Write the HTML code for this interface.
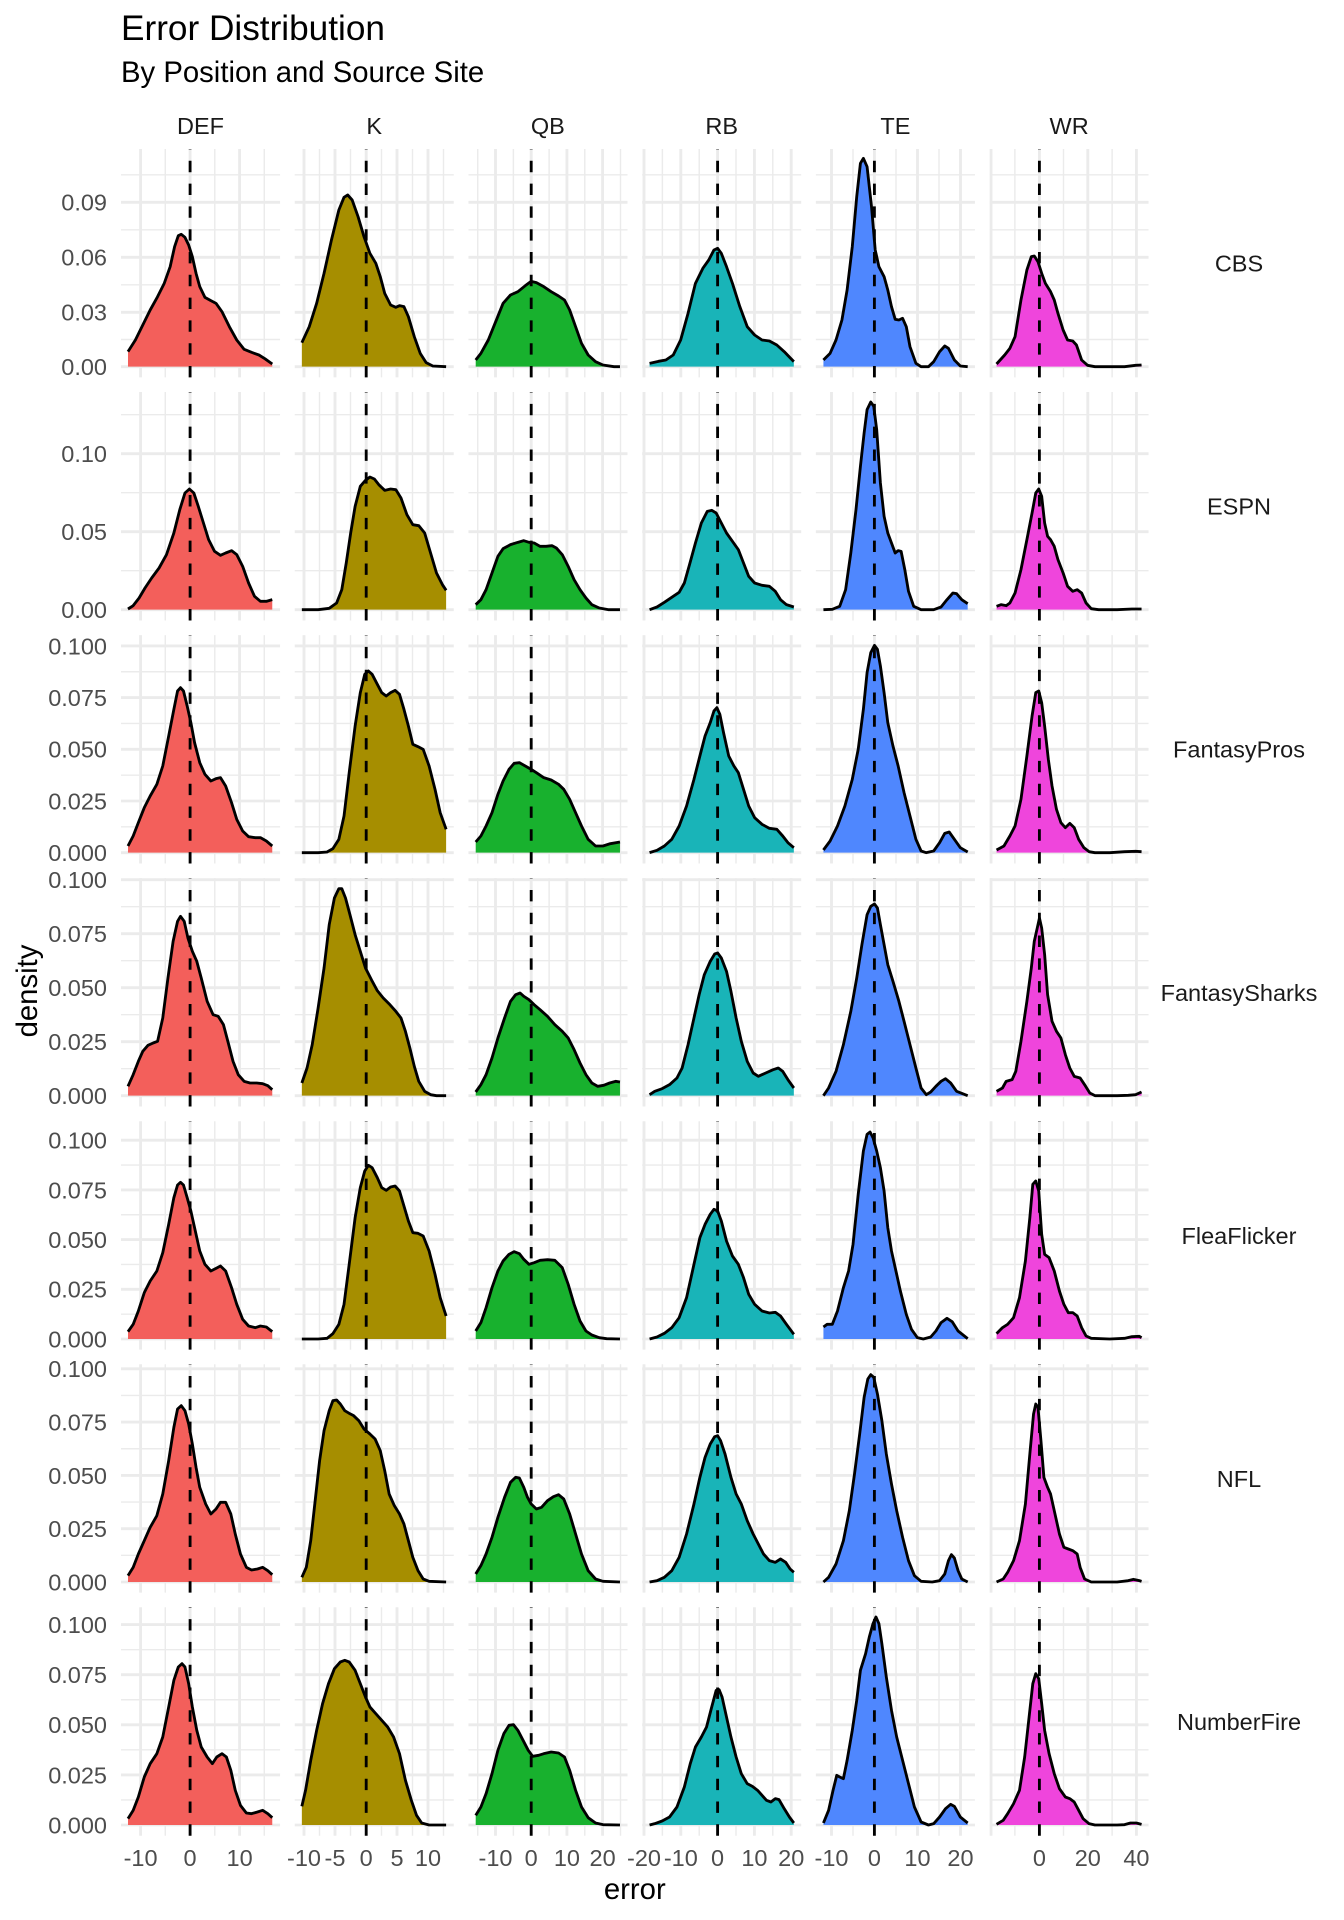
<!DOCTYPE html>
<html><head><meta charset="utf-8"><title>Error Distribution</title>
<style>html,body{margin:0;padding:0;background:#fff}svg{display:block}</style></head>
<body>
<svg width="1344" height="1920" viewBox="0 0 1344 1920" font-family="'Liberation Sans', Arial, Helvetica, sans-serif">
<rect x="0" y="0" width="1344" height="1920" fill="#fff"/>
<defs>
<g id="vg">
<path fill="none" stroke="#EBEBEB" stroke-width="1.42" d="M165.3,0V228.4M214.8,0V228.4M264.3,0V228.4M319.5,0V228.4M350.5,0V228.4M381.5,0V228.4M412.5,0V228.4M443.5,0V228.4M477.7,0V228.4M513.4,0V228.4M549.1,0V228.4M584.8,0V228.4M620.5,0V228.4M662.4,0V228.4M699.2,0V228.4M736,0V228.4M772.8,0V228.4M853,0V228.4M896,0V228.4M939,0V228.4M1014.9,0V228.4M1063.5,0V228.4M1112.1,0V228.4"/>
<path fill="none" stroke="#EBEBEB" stroke-width="2.84" d="M140.6,0V228.4M190.1,0V228.4M239.6,0V228.4M304,0V228.4M335,0V228.4M366.2,0V228.4M397,0V228.4M428,0V228.4M495.5,0V228.4M531.2,0V228.4M566.9,0V228.4M602.6,0V228.4M644,0V228.4M680.8,0V228.4M717.6,0V228.4M754.4,0V228.4M791.2,0V228.4M831.5,0V228.4M874.4,0V228.4M917.5,0V228.4M960.5,0V228.4M991,0V228.4M1039.4,0V228.4M1087.8,0V228.4M1136.4,0V228.4"/>
</g>
<g id="dl" fill="none" stroke="#000" stroke-width="2.84" stroke-dasharray="11.4 11.4">
<path d="M190.1,228.4V0M366.2,228.4V0M531.2,228.4V0M717.6,228.4V0M874.4,228.4V0M1039.4,228.4V0"/>
</g>
</defs>

<!-- vertical grid -->
<use href="#vg" x="0" y="149"/>
<use href="#vg" x="0" y="392.05"/>
<use href="#vg" x="0" y="635.1"/>
<use href="#vg" x="0" y="878.15"/>
<use href="#vg" x="0" y="1121.2"/>
<use href="#vg" x="0" y="1364.25"/>
<use href="#vg" x="0" y="1607.3"/>

<!-- horizontal minor grid -->
<path fill="none" stroke="#EBEBEB" stroke-width="1.42" d="M121,339.5H1148.65M121,284.8H1148.65M121,229.8H1148.65M121,174.8H1148.65
M121,570.7H1148.65M121,492.7H1148.65M121,414.7H1148.65
M121,826.85H1148.65M121,775.15H1148.65M121,723.45H1148.65M121,671.75H1148.65
M121,1068.7H1148.65M121,1014.7H1148.65M121,960.7H1148.65M121,906.7H1148.65
M121,1314.15H1148.65M121,1264.45H1148.65M121,1214.75H1148.65M121,1165.05H1148.65
M121,1555.35H1148.65M121,1502.05H1148.65M121,1448.75H1148.65M121,1395.45H1148.65
M121,1799.95H1148.65M121,1749.85H1148.65M121,1699.75H1148.65M121,1649.65H1148.65"/>
<!-- horizontal major grid -->
<path fill="none" stroke="#EBEBEB" stroke-width="2.84" d="M121,366.7H1148.65M121,312.3H1148.65M121,257.3H1148.65M121,202.3H1148.65
M121,609.7H1148.65M121,531.7H1148.65M121,453.7H1148.65
M121,852.7H1148.65M121,801H1148.65M121,749.3H1148.65M121,697.6H1148.65M121,645.9H1148.65
M121,1095.7H1148.65M121,1041.7H1148.65M121,987.7H1148.65M121,933.7H1148.65M121,879.7H1148.65
M121,1339H1148.65M121,1289.3H1148.65M121,1239.6H1148.65M121,1189.9H1148.65M121,1140.2H1148.65
M121,1582H1148.65M121,1528.7H1148.65M121,1475.4H1148.65M121,1422.1H1148.65M121,1368.8H1148.65
M121,1825H1148.65M121,1774.9H1148.65M121,1724.8H1148.65M121,1674.7H1148.65M121,1624.6H1148.65"/>

<!-- gaps between panel columns -->
<g fill="#fff">
<rect x="280.05" y="140" width="14.67" height="1700"/>
<rect x="453.77" y="140" width="14.67" height="1700"/>
<rect x="627.49" y="140" width="14.67" height="1700"/>
<rect x="801.21" y="140" width="14.67" height="1700"/>
<rect x="974.93" y="140" width="14.67" height="1700"/>
<rect x="1148.65" y="140" width="20" height="1700"/>
<rect x="100" y="140" width="21" height="1700"/>
</g>

<!-- ROW 1 CBS -->
<g transform="translate(0,140) scale(0.739828,0.333333)">
<polygon fill="#F35F5B" points="173,680 173,635 183,600 193,555 203,510 213,470 222,430 230,380 236,320 241,287 245,283 250,292 255,315 260,350 265,400 270,440 277,472 285,482 292,490 300,515 310,560 320,600 330,628 340,637 350,645 358,656 368,672 368,680"/>
<polygon fill="#A68E00" points="408,680 408,608 418,560 428,490 438,400 448,300 458,210 465,172 470,165 476,180 484,230 492,290 500,340 508,370 514,410 520,460 528,495 535,502 540,497 546,500 552,530 560,590 568,640 576,668 585,678 603,680"/>
<polygon fill="#18B12E" points="643,680 643,660 650,640 660,600 670,545 680,490 690,465 700,455 710,437 718,424 725,428 735,440 745,455 755,468 763,480 770,510 778,560 786,610 795,645 805,665 815,675 830,680 838,680"/>
<polygon fill="#19B4B8" points="878,680 878,670 890,664 900,660 910,645 920,600 930,520 940,430 950,385 958,360 965,330 970,325 975,340 982,380 990,430 1000,500 1010,560 1020,585 1030,600 1040,603 1050,615 1060,635 1073,665 1073,680"/>
<polygon fill="#4F87FE" points="1113,680 1113,660 1122,640 1130,600 1138,540 1145,450 1152,320 1158,170 1163,70 1167,55 1172,80 1178,200 1183,330 1188,380 1195,410 1200,450 1205,500 1210,538 1215,540 1220,535 1225,560 1230,620 1238,670 1245,680 1255,680 1262,665 1270,635 1277,618 1282,625 1290,660 1298,678 1308,680"/>
<polygon fill="#EF45DC" points="1347,680 1347,672 1358,645 1365,625 1372,590 1380,480 1388,390 1394,350 1398,348 1403,365 1408,400 1413,430 1420,455 1425,480 1430,520 1437,570 1443,600 1450,603 1455,615 1462,660 1470,676 1480,680 1500,680 1520,680 1535,676 1543,675 1543,680"/>
<g fill="none" stroke="#000" stroke-width="2.84" stroke-linejoin="round" vector-effect="non-scaling-stroke">
<polyline vector-effect="non-scaling-stroke" points="173,635 183,600 193,555 203,510 213,470 222,430 230,380 236,320 241,287 245,283 250,292 255,315 260,350 265,400 270,440 277,472 285,482 292,490 300,515 310,560 320,600 330,628 340,637 350,645 358,656 368,672"/>
<polyline vector-effect="non-scaling-stroke" points="408,608 418,560 428,490 438,400 448,300 458,210 465,172 470,165 476,180 484,230 492,290 500,340 508,370 514,410 520,460 528,495 535,502 540,497 546,500 552,530 560,590 568,640 576,668 585,678 603,680"/>
<polyline vector-effect="non-scaling-stroke" points="643,660 650,640 660,600 670,545 680,490 690,465 700,455 710,437 718,424 725,428 735,440 745,455 755,468 763,480 770,510 778,560 786,610 795,645 805,665 815,675 830,680 838,680"/>
<polyline vector-effect="non-scaling-stroke" points="878,670 890,664 900,660 910,645 920,600 930,520 940,430 950,385 958,360 965,330 970,325 975,340 982,380 990,430 1000,500 1010,560 1020,585 1030,600 1040,603 1050,615 1060,635 1073,665"/>
<polyline vector-effect="non-scaling-stroke" points="1113,660 1122,640 1130,600 1138,540 1145,450 1152,320 1158,170 1163,70 1167,55 1172,80 1178,200 1183,330 1188,380 1195,410 1200,450 1205,500 1210,538 1215,540 1220,535 1225,560 1230,620 1238,670 1245,680 1255,680 1262,665 1270,635 1277,618 1282,625 1290,660 1298,678 1308,680"/>
<polyline vector-effect="non-scaling-stroke" points="1347,672 1358,645 1365,625 1372,590 1380,480 1388,390 1394,350 1398,348 1403,365 1408,400 1413,430 1420,455 1425,480 1430,520 1437,570 1443,600 1450,603 1455,615 1462,660 1470,676 1480,680 1500,680 1520,680 1535,676 1543,675"/>
</g>
</g>

<!-- ROW 2 ESPN -->
<g transform="translate(0,383) scale(0.739828,0.333333)">
<polygon fill="#F35F5B" points="173,680 173,678 180,668 188,645 196,615 205,585 215,555 225,515 235,450 243,380 250,330 256,318 262,330 268,370 275,420 282,470 290,505 298,517 305,510 313,503 320,515 328,550 336,600 344,640 352,655 360,655 368,650 368,680"/>
<polygon fill="#A68E00" points="408,680 430,680 445,676 455,660 462,620 468,540 474,450 480,370 487,310 494,292 500,282 506,288 512,305 520,322 528,318 535,320 542,345 550,395 558,425 566,428 574,450 582,510 590,570 598,605 603,622 603,680"/>
<polygon fill="#18B12E" points="643,680 643,665 650,650 657,620 665,570 673,520 680,497 690,485 700,478 708,473 715,478 722,480 730,490 738,490 746,488 752,495 760,515 768,550 776,590 784,620 792,645 800,665 810,675 822,680 838,680"/>
<polygon fill="#19B4B8" points="878,680 888,672 898,658 908,643 918,628 925,600 932,545 940,480 948,420 956,385 962,382 968,390 975,420 982,450 990,475 998,500 1005,540 1012,580 1020,600 1030,607 1040,610 1048,625 1055,650 1063,665 1073,672 1073,680"/>
<polygon fill="#4F87FE" points="1113,680 1125,679 1135,670 1143,620 1150,510 1157,380 1163,250 1168,150 1172,80 1177,57 1181,70 1185,140 1190,300 1195,400 1200,450 1205,480 1210,510 1214,503 1218,505 1223,560 1228,625 1235,670 1245,680 1262,680 1272,672 1280,650 1288,630 1293,632 1300,650 1308,662 1308,680"/>
<polygon fill="#EF45DC" points="1347,680 1347,670 1353,665 1360,668 1365,660 1372,630 1380,560 1388,470 1395,390 1400,330 1404,318 1408,340 1412,420 1416,460 1420,470 1425,490 1430,530 1437,570 1443,610 1450,625 1456,620 1462,630 1468,660 1475,677 1485,680 1510,680 1530,678 1543,678 1543,680"/>
<g fill="none" stroke="#000" stroke-width="2.84" stroke-linejoin="round">
<polyline vector-effect="non-scaling-stroke" points="173,678 180,668 188,645 196,615 205,585 215,555 225,515 235,450 243,380 250,330 256,318 262,330 268,370 275,420 282,470 290,505 298,517 305,510 313,503 320,515 328,550 336,600 344,640 352,655 360,655 368,650"/>
<polyline vector-effect="non-scaling-stroke" points="408,680 430,680 445,676 455,660 462,620 468,540 474,450 480,370 487,310 494,292 500,282 506,288 512,305 520,322 528,318 535,320 542,345 550,395 558,425 566,428 574,450 582,510 590,570 598,605 603,622"/>
<polyline vector-effect="non-scaling-stroke" points="643,665 650,650 657,620 665,570 673,520 680,497 690,485 700,478 708,473 715,478 722,480 730,490 738,490 746,488 752,495 760,515 768,550 776,590 784,620 792,645 800,665 810,675 822,680 838,680"/>
<polyline vector-effect="non-scaling-stroke" points="878,680 888,672 898,658 908,643 918,628 925,600 932,545 940,480 948,420 956,385 962,382 968,390 975,420 982,450 990,475 998,500 1005,540 1012,580 1020,600 1030,607 1040,610 1048,625 1055,650 1063,665 1073,672"/>
<polyline vector-effect="non-scaling-stroke" points="1113,680 1125,679 1135,670 1143,620 1150,510 1157,380 1163,250 1168,150 1172,80 1177,57 1181,70 1185,140 1190,300 1195,400 1200,450 1205,480 1210,510 1214,503 1218,505 1223,560 1228,625 1235,670 1245,680 1262,680 1272,672 1280,650 1288,630 1293,632 1300,650 1308,662"/>
<polyline vector-effect="non-scaling-stroke" points="1347,670 1353,665 1360,668 1365,660 1372,630 1380,560 1388,470 1395,390 1400,330 1404,318 1408,340 1412,420 1416,460 1420,470 1425,490 1430,530 1437,570 1443,610 1450,625 1456,620 1462,630 1468,660 1475,677 1485,680 1510,680 1530,678 1543,678"/>
</g>
</g>

<!-- ROW 3 FantasyPros -->
<g transform="translate(0,626) scale(0.739828,0.333333)">
<polygon fill="#F35F5B" points="173,680 173,660 180,630 187,590 195,545 203,510 212,475 220,420 228,330 235,250 240,195 244,185 248,195 253,240 258,290 263,350 270,410 277,445 285,465 292,458 298,455 305,480 313,530 320,580 328,615 336,632 345,635 352,635 360,645 368,660 368,680"/>
<polygon fill="#A68E00" points="408,680 430,680 442,678 450,668 458,640 465,570 472,440 480,300 487,200 493,145 498,135 503,145 510,175 516,200 522,210 528,200 534,193 540,205 546,250 552,300 558,355 565,362 572,370 580,420 588,490 595,560 603,610 603,680"/>
<polygon fill="#18B12E" points="643,680 643,648 650,630 657,600 665,560 673,505 680,465 688,430 695,412 702,410 710,420 718,430 725,440 735,455 745,462 755,475 762,490 770,520 778,560 786,600 795,640 805,660 815,660 825,653 838,648 838,680"/>
<polygon fill="#19B4B8" points="878,680 888,673 898,660 908,640 918,600 928,540 938,460 946,390 953,330 960,290 965,255 969,245 973,265 978,320 985,390 992,420 998,440 1005,490 1012,540 1020,575 1030,595 1040,607 1050,610 1058,630 1065,650 1073,665 1073,680"/>
<polygon fill="#4F87FE" points="1113,680 1113,672 1122,645 1132,600 1142,540 1152,460 1160,370 1167,250 1172,140 1177,80 1182,58 1186,70 1190,120 1195,200 1200,290 1207,360 1214,420 1222,500 1230,570 1238,640 1245,675 1252,680 1262,675 1270,650 1277,622 1283,618 1290,640 1298,665 1308,678 1308,680"/>
<polygon fill="#EF45DC" points="1347,680 1347,672 1357,660 1365,630 1372,600 1380,520 1388,390 1395,270 1400,200 1404,195 1408,230 1412,300 1417,400 1422,480 1428,550 1434,590 1440,605 1446,592 1452,605 1458,640 1465,665 1472,677 1480,680 1500,680 1520,677 1535,676 1543,677 1543,680"/>
<g fill="none" stroke="#000" stroke-width="2.84" stroke-linejoin="round">
<polyline vector-effect="non-scaling-stroke" points="173,660 180,630 187,590 195,545 203,510 212,475 220,420 228,330 235,250 240,195 244,185 248,195 253,240 258,290 263,350 270,410 277,445 285,465 292,458 298,455 305,480 313,530 320,580 328,615 336,632 345,635 352,635 360,645 368,660"/>
<polyline vector-effect="non-scaling-stroke" points="408,680 430,680 442,678 450,668 458,640 465,570 472,440 480,300 487,200 493,145 498,135 503,145 510,175 516,200 522,210 528,200 534,193 540,205 546,250 552,300 558,355 565,362 572,370 580,420 588,490 595,560 603,610"/>
<polyline vector-effect="non-scaling-stroke" points="643,648 650,630 657,600 665,560 673,505 680,465 688,430 695,412 702,410 710,420 718,430 725,440 735,455 745,462 755,475 762,490 770,520 778,560 786,600 795,640 805,660 815,660 825,653 838,648"/>
<polyline vector-effect="non-scaling-stroke" points="878,680 888,673 898,660 908,640 918,600 928,540 938,460 946,390 953,330 960,290 965,255 969,245 973,265 978,320 985,390 992,420 998,440 1005,490 1012,540 1020,575 1030,595 1040,607 1050,610 1058,630 1065,650 1073,665"/>
<polyline vector-effect="non-scaling-stroke" points="1113,672 1122,645 1132,600 1142,540 1152,460 1160,370 1167,250 1172,140 1177,80 1182,58 1186,70 1190,120 1195,200 1200,290 1207,360 1214,420 1222,500 1230,570 1238,640 1245,675 1252,680 1262,675 1270,650 1277,622 1283,618 1290,640 1298,665 1308,678"/>
<polyline vector-effect="non-scaling-stroke" points="1347,672 1357,660 1365,630 1372,600 1380,520 1388,390 1395,270 1400,200 1404,195 1408,230 1412,300 1417,400 1422,480 1428,550 1434,590 1440,605 1446,592 1452,605 1458,640 1465,665 1472,677 1480,680 1500,680 1520,677 1535,676 1543,677"/>
</g>
</g>

<!-- ROW 4 FantasySharks -->
<g transform="translate(0,868) scale(0.739828,0.333333)">
<polygon fill="#F35F5B" points="173,683 173,655 180,620 187,580 193,550 200,532 207,525 213,520 220,450 227,330 234,220 240,160 244,145 249,160 254,210 260,250 266,280 272,330 280,400 288,440 295,445 302,470 308,520 315,580 322,620 330,640 338,645 347,645 355,647 362,653 368,665 368,683"/>
<polygon fill="#A68E00" points="408,683 408,645 415,600 422,530 430,420 438,300 445,170 452,90 458,62 462,62 467,90 473,140 480,200 487,250 494,300 502,335 510,368 518,390 527,410 535,430 542,450 548,490 554,540 560,595 566,640 574,670 582,680 590,683 603,683"/>
<polygon fill="#18B12E" points="643,683 643,672 650,650 657,620 665,570 673,510 682,450 690,400 697,380 703,375 708,385 715,395 722,410 730,425 740,445 750,470 760,490 768,510 776,545 784,585 792,620 800,645 808,655 816,652 824,645 832,640 838,642 838,683"/>
<polygon fill="#19B4B8" points="878,683 878,680 885,670 895,662 905,650 915,630 922,600 930,530 938,450 945,380 952,320 960,280 966,258 970,255 975,270 982,310 988,370 995,450 1002,520 1010,580 1018,615 1025,625 1035,615 1045,605 1052,600 1058,610 1065,635 1073,660 1073,683"/>
<polygon fill="#4F87FE" points="1113,683 1120,660 1130,610 1140,530 1150,430 1158,330 1165,230 1172,140 1177,115 1182,108 1186,120 1190,170 1195,230 1200,290 1207,340 1215,400 1222,460 1230,530 1238,600 1245,660 1252,680 1258,672 1265,655 1272,640 1278,632 1285,645 1293,670 1308,683"/>
<polygon fill="#EF45DC" points="1347,683 1347,670 1355,660 1360,640 1368,635 1373,610 1380,520 1388,400 1394,300 1398,220 1402,180 1405,150 1408,180 1412,260 1416,380 1422,460 1428,490 1434,510 1440,560 1446,600 1452,625 1460,630 1466,650 1473,675 1480,683 1510,683 1525,682 1535,680 1543,672 1543,683"/>
<g fill="none" stroke="#000" stroke-width="2.84" stroke-linejoin="round">
<polyline vector-effect="non-scaling-stroke" points="173,655 180,620 187,580 193,550 200,532 207,525 213,520 220,450 227,330 234,220 240,160 244,145 249,160 254,210 260,250 266,280 272,330 280,400 288,440 295,445 302,470 308,520 315,580 322,620 330,640 338,645 347,645 355,647 362,653 368,665"/>
<polyline vector-effect="non-scaling-stroke" points="408,645 415,600 422,530 430,420 438,300 445,170 452,90 458,62 462,62 467,90 473,140 480,200 487,250 494,300 502,335 510,368 518,390 527,410 535,430 542,450 548,490 554,540 560,595 566,640 574,670 582,680 590,683 603,683"/>
<polyline vector-effect="non-scaling-stroke" points="643,672 650,650 657,620 665,570 673,510 682,450 690,400 697,380 703,375 708,385 715,395 722,410 730,425 740,445 750,470 760,490 768,510 776,545 784,585 792,620 800,645 808,655 816,652 824,645 832,640 838,642"/>
<polyline vector-effect="non-scaling-stroke" points="878,680 885,670 895,662 905,650 915,630 922,600 930,530 938,450 945,380 952,320 960,280 966,258 970,255 975,270 982,310 988,370 995,450 1002,520 1010,580 1018,615 1025,625 1035,615 1045,605 1052,600 1058,610 1065,635 1073,660"/>
<polyline vector-effect="non-scaling-stroke" points="1113,683 1120,660 1130,610 1140,530 1150,430 1158,330 1165,230 1172,140 1177,115 1182,108 1186,120 1190,170 1195,230 1200,290 1207,340 1215,400 1222,460 1230,530 1238,600 1245,660 1252,680 1258,672 1265,655 1272,640 1278,632 1285,645 1293,670 1308,683"/>
<polyline vector-effect="non-scaling-stroke" points="1347,670 1355,660 1360,640 1368,635 1373,610 1380,520 1388,400 1394,300 1398,220 1402,180 1405,150 1408,180 1412,260 1416,380 1422,460 1428,490 1434,510 1440,560 1446,600 1452,625 1460,630 1466,650 1473,675 1480,683 1510,683 1525,682 1535,680 1543,672"/>
</g>
</g>

<!-- ROW 5 FleaFlicker -->
<g transform="translate(0,1111) scale(0.739828,0.333333)">
<polygon fill="#F35F5B" points="173,684 173,662 180,640 187,600 195,545 203,510 212,480 220,425 228,340 235,260 240,222 244,214 248,222 253,260 258,300 264,360 270,420 277,460 285,480 292,472 298,465 305,480 313,530 320,580 328,625 336,645 345,650 352,645 360,648 368,662 368,684"/>
<polygon fill="#A68E00" points="408,684 430,684 442,682 450,668 458,640 465,580 472,460 480,320 487,230 493,180 498,163 503,170 510,200 516,230 522,238 528,228 534,225 540,240 546,285 552,330 558,365 565,367 572,375 580,420 588,490 595,560 603,615 603,684"/>
<polygon fill="#18B12E" points="643,684 643,660 650,635 657,590 665,530 673,480 680,450 688,430 695,422 702,428 708,445 715,460 722,455 730,448 740,446 750,448 760,470 768,520 776,580 784,630 792,660 800,672 810,680 820,683 838,684"/>
<polygon fill="#19B4B8" points="878,684 888,678 898,667 908,650 918,620 928,560 938,460 946,380 953,340 960,310 965,295 970,300 975,330 982,390 990,435 998,460 1005,500 1012,550 1020,580 1030,600 1040,606 1048,604 1055,615 1063,640 1073,670 1073,684"/>
<polygon fill="#4F87FE" points="1113,684 1113,648 1118,640 1125,640 1132,600 1140,530 1147,480 1153,400 1160,250 1167,120 1172,70 1176,63 1180,80 1185,120 1190,170 1195,240 1200,350 1205,420 1210,470 1217,540 1225,610 1232,655 1240,680 1248,684 1258,678 1265,660 1272,635 1280,622 1287,632 1295,660 1308,683 1308,684"/>
<polygon fill="#EF45DC" points="1347,684 1347,668 1355,650 1362,640 1370,620 1378,560 1386,450 1392,320 1396,220 1400,210 1404,240 1408,370 1412,430 1418,440 1425,480 1432,540 1438,580 1444,605 1450,605 1456,615 1462,650 1468,675 1475,682 1500,684 1520,682 1530,677 1540,676 1543,680 1543,684"/>
<g fill="none" stroke="#000" stroke-width="2.84" stroke-linejoin="round">
<polyline vector-effect="non-scaling-stroke" points="173,662 180,640 187,600 195,545 203,510 212,480 220,425 228,340 235,260 240,222 244,214 248,222 253,260 258,300 264,360 270,420 277,460 285,480 292,472 298,465 305,480 313,530 320,580 328,625 336,645 345,650 352,645 360,648 368,662"/>
<polyline vector-effect="non-scaling-stroke" points="408,684 430,684 442,682 450,668 458,640 465,580 472,460 480,320 487,230 493,180 498,163 503,170 510,200 516,230 522,238 528,228 534,225 540,240 546,285 552,330 558,365 565,367 572,375 580,420 588,490 595,560 603,615"/>
<polyline vector-effect="non-scaling-stroke" points="643,660 650,635 657,590 665,530 673,480 680,450 688,430 695,422 702,428 708,445 715,460 722,455 730,448 740,446 750,448 760,470 768,520 776,580 784,630 792,660 800,672 810,680 820,683 838,684"/>
<polyline vector-effect="non-scaling-stroke" points="878,684 888,678 898,667 908,650 918,620 928,560 938,460 946,380 953,340 960,310 965,295 970,300 975,330 982,390 990,435 998,460 1005,500 1012,550 1020,580 1030,600 1040,606 1048,604 1055,615 1063,640 1073,670"/>
<polyline vector-effect="non-scaling-stroke" points="1113,648 1118,640 1125,640 1132,600 1140,530 1147,480 1153,400 1160,250 1167,120 1172,70 1176,63 1180,80 1185,120 1190,170 1195,240 1200,350 1205,420 1210,470 1217,540 1225,610 1232,655 1240,680 1248,684 1258,678 1265,660 1272,635 1280,622 1287,632 1295,660 1308,683"/>
<polyline vector-effect="non-scaling-stroke" points="1347,668 1355,650 1362,640 1370,620 1378,560 1386,450 1392,320 1396,220 1400,210 1404,240 1408,370 1412,430 1418,440 1425,480 1432,540 1438,580 1444,605 1450,605 1456,615 1462,650 1468,675 1475,682 1500,684 1520,682 1530,677 1540,676 1543,680"/>
</g>
</g>

<!-- ROW 6 NFL -->
<g transform="translate(0,1354) scale(0.739828,0.333333)">
<polygon fill="#F35F5B" points="173,684 173,665 180,640 187,600 195,560 203,520 212,485 220,420 228,320 235,220 240,165 245,155 250,170 255,210 260,270 265,340 270,400 278,450 285,480 292,465 298,445 305,445 312,480 318,540 325,600 333,640 340,648 348,645 355,640 362,650 368,662 368,684"/>
<polygon fill="#A68E00" points="408,684 408,670 414,640 420,560 426,440 432,320 438,230 445,170 450,140 455,138 460,150 466,170 472,178 478,185 485,200 492,225 500,240 507,255 514,290 520,350 526,420 533,455 540,480 546,510 552,560 558,610 565,650 572,675 580,682 603,684"/>
<polygon fill="#18B12E" points="643,684 643,660 650,635 657,600 665,550 673,490 682,430 690,385 697,370 702,372 708,400 713,430 718,450 725,465 732,460 740,440 748,428 755,422 762,435 770,480 778,540 786,600 795,650 805,675 815,682 838,684"/>
<polygon fill="#19B4B8" points="878,684 888,680 898,670 908,650 918,610 928,540 938,450 946,370 953,310 960,270 966,248 970,245 974,260 980,300 988,370 995,420 1002,450 1010,500 1018,540 1025,570 1032,600 1040,620 1048,625 1055,615 1062,625 1068,645 1073,655 1073,684"/>
<polygon fill="#4F87FE" points="1113,684 1120,670 1130,630 1140,560 1148,470 1155,360 1162,240 1168,130 1173,75 1177,62 1181,70 1186,120 1192,200 1198,300 1205,390 1212,470 1220,550 1228,620 1236,665 1245,682 1260,684 1270,680 1277,660 1282,620 1286,602 1290,612 1295,650 1300,675 1308,684"/>
<polygon fill="#EF45DC" points="1347,684 1356,675 1362,655 1370,620 1378,560 1386,450 1392,300 1397,180 1400,150 1403,160 1407,260 1411,370 1416,400 1420,420 1426,480 1432,540 1438,580 1444,585 1450,590 1456,600 1460,640 1466,675 1475,684 1510,684 1525,680 1532,676 1540,680 1543,682 1543,684"/>
<g fill="none" stroke="#000" stroke-width="2.84" stroke-linejoin="round">
<polyline vector-effect="non-scaling-stroke" points="173,665 180,640 187,600 195,560 203,520 212,485 220,420 228,320 235,220 240,165 245,155 250,170 255,210 260,270 265,340 270,400 278,450 285,480 292,465 298,445 305,445 312,480 318,540 325,600 333,640 340,648 348,645 355,640 362,650 368,662"/>
<polyline vector-effect="non-scaling-stroke" points="408,670 414,640 420,560 426,440 432,320 438,230 445,170 450,140 455,138 460,150 466,170 472,178 478,185 485,200 492,225 500,240 507,255 514,290 520,350 526,420 533,455 540,480 546,510 552,560 558,610 565,650 572,675 580,682 603,684"/>
<polyline vector-effect="non-scaling-stroke" points="643,660 650,635 657,600 665,550 673,490 682,430 690,385 697,370 702,372 708,400 713,430 718,450 725,465 732,460 740,440 748,428 755,422 762,435 770,480 778,540 786,600 795,650 805,675 815,682 838,684"/>
<polyline vector-effect="non-scaling-stroke" points="878,684 888,680 898,670 908,650 918,610 928,540 938,450 946,370 953,310 960,270 966,248 970,245 974,260 980,300 988,370 995,420 1002,450 1010,500 1018,540 1025,570 1032,600 1040,620 1048,625 1055,615 1062,625 1068,645 1073,655"/>
<polyline vector-effect="non-scaling-stroke" points="1113,684 1120,670 1130,630 1140,560 1148,470 1155,360 1162,240 1168,130 1173,75 1177,62 1181,70 1186,120 1192,200 1198,300 1205,390 1212,470 1220,550 1228,620 1236,665 1245,682 1260,684 1270,680 1277,660 1282,620 1286,602 1290,612 1295,650 1300,675 1308,684"/>
<polyline vector-effect="non-scaling-stroke" points="1347,684 1356,675 1362,655 1370,620 1378,560 1386,450 1392,300 1397,180 1400,150 1403,160 1407,260 1411,370 1416,400 1420,420 1426,480 1432,540 1438,580 1444,585 1450,590 1456,600 1460,640 1466,675 1475,684 1510,684 1525,680 1532,676 1540,680 1543,682"/>
</g>
</g>

<!-- ROW 7 NumberFire -->
<g transform="translate(0,1597) scale(0.739828,0.333333)">
<polygon fill="#F35F5B" points="173,684 173,665 180,640 187,600 195,540 203,500 212,470 220,420 228,330 235,250 241,210 246,200 250,210 255,260 260,330 266,400 272,450 280,480 287,500 293,480 300,470 306,480 312,520 318,580 325,625 333,648 340,650 348,645 355,640 362,650 368,662 368,684"/>
<polygon fill="#A68E00" points="408,684 408,628 413,580 420,490 428,400 436,320 444,260 452,215 460,195 466,190 472,195 480,220 487,260 494,300 500,330 508,350 516,370 524,390 532,420 540,470 548,550 556,610 563,655 570,678 580,684 603,684"/>
<polygon fill="#18B12E" points="643,684 643,655 650,630 657,590 665,530 673,460 681,410 688,385 694,383 700,400 707,430 714,460 720,478 728,475 735,470 745,465 755,468 763,480 770,520 778,580 786,630 795,662 805,678 815,683 838,684"/>
<polygon fill="#19B4B8" points="878,684 885,680 895,672 905,660 915,630 925,570 933,500 940,450 948,420 955,390 962,330 968,280 972,278 976,300 982,360 988,420 995,480 1002,530 1010,560 1017,568 1024,580 1030,595 1036,610 1042,615 1048,605 1053,608 1060,635 1067,660 1073,678 1073,684"/>
<polygon fill="#4F87FE" points="1113,684 1113,678 1120,640 1126,580 1131,535 1135,540 1140,545 1145,490 1152,400 1158,310 1163,220 1170,170 1175,120 1180,80 1184,60 1188,80 1192,140 1198,240 1205,340 1212,420 1220,490 1228,560 1236,630 1245,675 1255,684 1262,680 1270,660 1278,635 1285,622 1290,628 1298,660 1308,678 1308,684"/>
<polygon fill="#EF45DC" points="1347,684 1347,682 1356,670 1362,650 1370,620 1378,580 1385,480 1391,360 1396,260 1400,230 1404,245 1408,320 1412,400 1418,470 1425,530 1432,575 1440,600 1446,605 1452,615 1458,640 1464,665 1472,680 1480,684 1510,684 1520,683 1528,678 1536,678 1543,682 1543,684"/>
<g fill="none" stroke="#000" stroke-width="2.84" stroke-linejoin="round">
<polyline vector-effect="non-scaling-stroke" points="173,665 180,640 187,600 195,540 203,500 212,470 220,420 228,330 235,250 241,210 246,200 250,210 255,260 260,330 266,400 272,450 280,480 287,500 293,480 300,470 306,480 312,520 318,580 325,625 333,648 340,650 348,645 355,640 362,650 368,662"/>
<polyline vector-effect="non-scaling-stroke" points="408,628 413,580 420,490 428,400 436,320 444,260 452,215 460,195 466,190 472,195 480,220 487,260 494,300 500,330 508,350 516,370 524,390 532,420 540,470 548,550 556,610 563,655 570,678 580,684 603,684"/>
<polyline vector-effect="non-scaling-stroke" points="643,655 650,630 657,590 665,530 673,460 681,410 688,385 694,383 700,400 707,430 714,460 720,478 728,475 735,470 745,465 755,468 763,480 770,520 778,580 786,630 795,662 805,678 815,683 838,684"/>
<polyline vector-effect="non-scaling-stroke" points="878,684 885,680 895,672 905,660 915,630 925,570 933,500 940,450 948,420 955,390 962,330 968,280 972,278 976,300 982,360 988,420 995,480 1002,530 1010,560 1017,568 1024,580 1030,595 1036,610 1042,615 1048,605 1053,608 1060,635 1067,660 1073,678"/>
<polyline vector-effect="non-scaling-stroke" points="1113,678 1120,640 1126,580 1131,535 1135,540 1140,545 1145,490 1152,400 1158,310 1163,220 1170,170 1175,120 1180,80 1184,60 1188,80 1192,140 1198,240 1205,340 1212,420 1220,490 1228,560 1236,630 1245,675 1255,684 1262,680 1270,660 1278,635 1285,622 1290,628 1298,660 1308,678"/>
<polyline vector-effect="non-scaling-stroke" points="1347,682 1356,670 1362,650 1370,620 1378,580 1385,480 1391,360 1396,260 1400,230 1404,245 1408,320 1412,400 1418,470 1425,530 1432,575 1440,600 1446,605 1452,615 1458,640 1464,665 1472,680 1480,684 1510,684 1520,683 1528,678 1536,678 1543,682"/>
</g>
</g>

<!-- dashed zero lines -->
<use href="#dl" x="0" y="149"/>
<use href="#dl" x="0" y="392.05"/>
<use href="#dl" x="0" y="635.1"/>
<use href="#dl" x="0" y="878.15"/>
<use href="#dl" x="0" y="1121.2"/>
<use href="#dl" x="0" y="1364.25"/>
<use href="#dl" x="0" y="1607.3"/>

<!-- titles -->
<text x="121" y="40" font-size="35.2" fill="#000">Error Distribution</text>
<text x="121" y="82" font-size="29.3" fill="#000">By Position and Source Site</text>

<!-- top strips -->
<g font-size="23.5" fill="#1A1A1A" text-anchor="middle">
<text x="200.5" y="134">DEF</text>
<text x="374.2" y="134">K</text>
<text x="547.9" y="134">QB</text>
<text x="721.7" y="134">RB</text>
<text x="895.4" y="134">TE</text>
<text x="1069.1" y="134">WR</text>
</g>

<!-- right strips -->
<g font-size="23.5" fill="#1A1A1A" text-anchor="middle">
<text x="1239" y="271.6">CBS</text>
<text x="1239" y="514.7">ESPN</text>
<text x="1239" y="757.7">FantasyPros</text>
<text x="1239" y="1000.8">FantasySharks</text>
<text x="1239" y="1243.8">FleaFlicker</text>
<text x="1239" y="1486.9">NFL</text>
<text x="1239" y="1729.9">NumberFire</text>
</g>

<!-- y tick labels -->
<g font-size="23.5" fill="#4D4D4D" text-anchor="end">
<text x="107" y="375.1">0.00</text>
<text x="107" y="320.7">0.03</text>
<text x="107" y="265.7">0.06</text>
<text x="107" y="210.7">0.09</text>

<text x="107" y="618.1">0.00</text>
<text x="107" y="540.1">0.05</text>
<text x="107" y="462.1">0.10</text>

<text x="107" y="861.1">0.000</text>
<text x="107" y="809.4">0.025</text>
<text x="107" y="757.7">0.050</text>
<text x="107" y="706">0.075</text>
<text x="107" y="654.3">0.100</text>

<text x="107" y="1104.1">0.000</text>
<text x="107" y="1050.1">0.025</text>
<text x="107" y="996.1">0.050</text>
<text x="107" y="942.1">0.075</text>
<text x="107" y="888.1">0.100</text>

<text x="107" y="1347.4">0.000</text>
<text x="107" y="1297.7">0.025</text>
<text x="107" y="1248">0.050</text>
<text x="107" y="1198.3">0.075</text>
<text x="107" y="1148.6">0.100</text>

<text x="107" y="1590.4">0.000</text>
<text x="107" y="1537.1">0.025</text>
<text x="107" y="1483.8">0.050</text>
<text x="107" y="1430.5">0.075</text>
<text x="107" y="1377.2">0.100</text>

<text x="107" y="1833.4">0.000</text>
<text x="107" y="1783.3">0.025</text>
<text x="107" y="1733.2">0.050</text>
<text x="107" y="1683.1">0.075</text>
<text x="107" y="1633">0.100</text>
</g>

<!-- x tick labels -->
<g font-size="23.5" fill="#4D4D4D" text-anchor="middle">
<text x="140.6" y="1866">-10</text>
<text x="190.1" y="1866">0</text>
<text x="239.6" y="1866">10</text>

<text x="304" y="1866">-10</text>
<text x="335" y="1866">-5</text>
<text x="366.2" y="1866">0</text>
<text x="397" y="1866">5</text>
<text x="428" y="1866">10</text>

<text x="495.5" y="1866">-10</text>
<text x="531.2" y="1866">0</text>
<text x="566.9" y="1866">10</text>
<text x="602.6" y="1866">20</text>

<text x="644" y="1866">-20</text>
<text x="680.8" y="1866">-10</text>
<text x="717.6" y="1866">0</text>
<text x="754.4" y="1866">10</text>
<text x="791.2" y="1866">20</text>

<text x="831.5" y="1866">-10</text>
<text x="874.4" y="1866">0</text>
<text x="917.5" y="1866">10</text>
<text x="960.5" y="1866">20</text>

<text x="1039.4" y="1866">0</text>
<text x="1087.8" y="1866">20</text>
<text x="1136.4" y="1866">40</text>
</g>

<!-- axis titles -->
<text x="634.8" y="1899" font-size="29.3" fill="#000" text-anchor="middle">error</text>
<text transform="translate(37,991) rotate(-90)" font-size="29.3" fill="#000" text-anchor="middle">density</text>
</svg>
</body></html>
